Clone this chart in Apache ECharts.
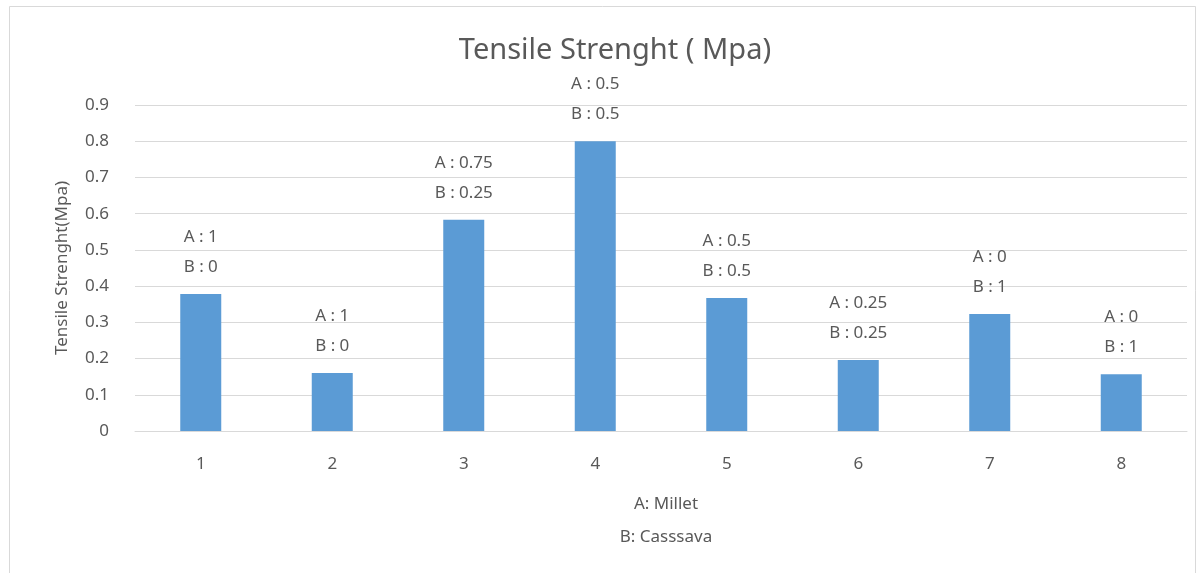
<!DOCTYPE html>
<html>
<head>
<meta charset="utf-8">
<script src="https://cdn.jsdelivr.net/npm/echarts@6/dist/echarts.min.js"></script>
<style>html,body{margin:0;padding:0;background:#fff}#c{width:1200px;height:573px}</style>
</head>
<body>
<div id="c"></div>
<script>
const categories = ['1', '2', '3', '4', '5', '6', '7', '8'];
const values = [0.378, 0.16, 0.583, 0.80, 0.367, 0.196, 0.323, 0.157];
const shareA = ['1', '1', '0.75', '0.5', '0.5', '0.25', '0', '0'];
const shareB = ['0', '0', '0.25', '0.5', '0.5', '0.25', '1', '1'];
const yTicks = [0, 0.1, 0.2, 0.3, 0.4, 0.5, 0.6, 0.7, 0.8, 0.9];

const FONT = '"Noto Sans", "DejaVu Sans", sans-serif';
const chart = echarts.init(document.getElementById('c'));
chart.setOption({
  animation: false,
  backgroundColor: '#fff',
  title: [
    { text: 'Tensile Strenght ( Mpa)', left: 610, top: 31, textAlign: 'center',
      textStyle: { fontFamily: FONT, fontSize: 29, fontWeight: 'normal', color: '#595959' } },
    { text: 'A: Millet\nB: Casssava', left: 661, top: 483, textAlign: 'center',
      textStyle: { fontFamily: FONT, fontSize: 17, fontWeight: 'normal', color: '#595959', lineHeight: 33 } }
  ],
  graphic: [{ type: 'rect', shape: { x: 9.5, y: 6.5, width: 1186, height: 600 },
    style: { fill: 'none', stroke: '#D9D9D9', lineWidth: 1 }, silent: true }],
  grid: { left: 135, right: 13, top: 105, bottom: 142 },
  xAxis: {
    type: 'category', data: categories,
    axisLine: { lineStyle: { color: '#D9D9D9' } },
    axisTick: { show: false },
    axisLabel: { fontFamily: FONT, fontSize: 17, color: '#595959', margin: 25 }
  },
  yAxis: {
    type: 'value', min: 0, max: 0.9, interval: 0.1,
    name: 'Tensile Strenght(Mpa)', nameLocation: 'middle', nameGap: 64, nameRotate: 90,
    nameTextStyle: { fontFamily: FONT, fontSize: 17, color: '#595959' },
    axisLine: { show: false }, axisTick: { show: false },
    splitLine: { lineStyle: { color: '#D9D9D9' } },
    axisLabel: { fontFamily: FONT, fontSize: 17, color: '#595959', margin: 26,
      formatter: v => { const t = yTicks.find(x => Math.abs(x - v) < 1e-9); return t === 0 ? '0' : String(+t.toFixed(1)); } }
  },
  series: [{
    type: 'bar', data: values, barWidth: 41,
    itemStyle: { color: '#5B9BD5' },
    label: { show: true, position: 'top', distance: 12,
      fontFamily: FONT, fontSize: 17, color: '#595959', lineHeight: 30,
      formatter: p => 'A : ' + shareA[p.dataIndex] + '\nB : ' + shareB[p.dataIndex] }
  }]
});
</script>
</body>
</html>
